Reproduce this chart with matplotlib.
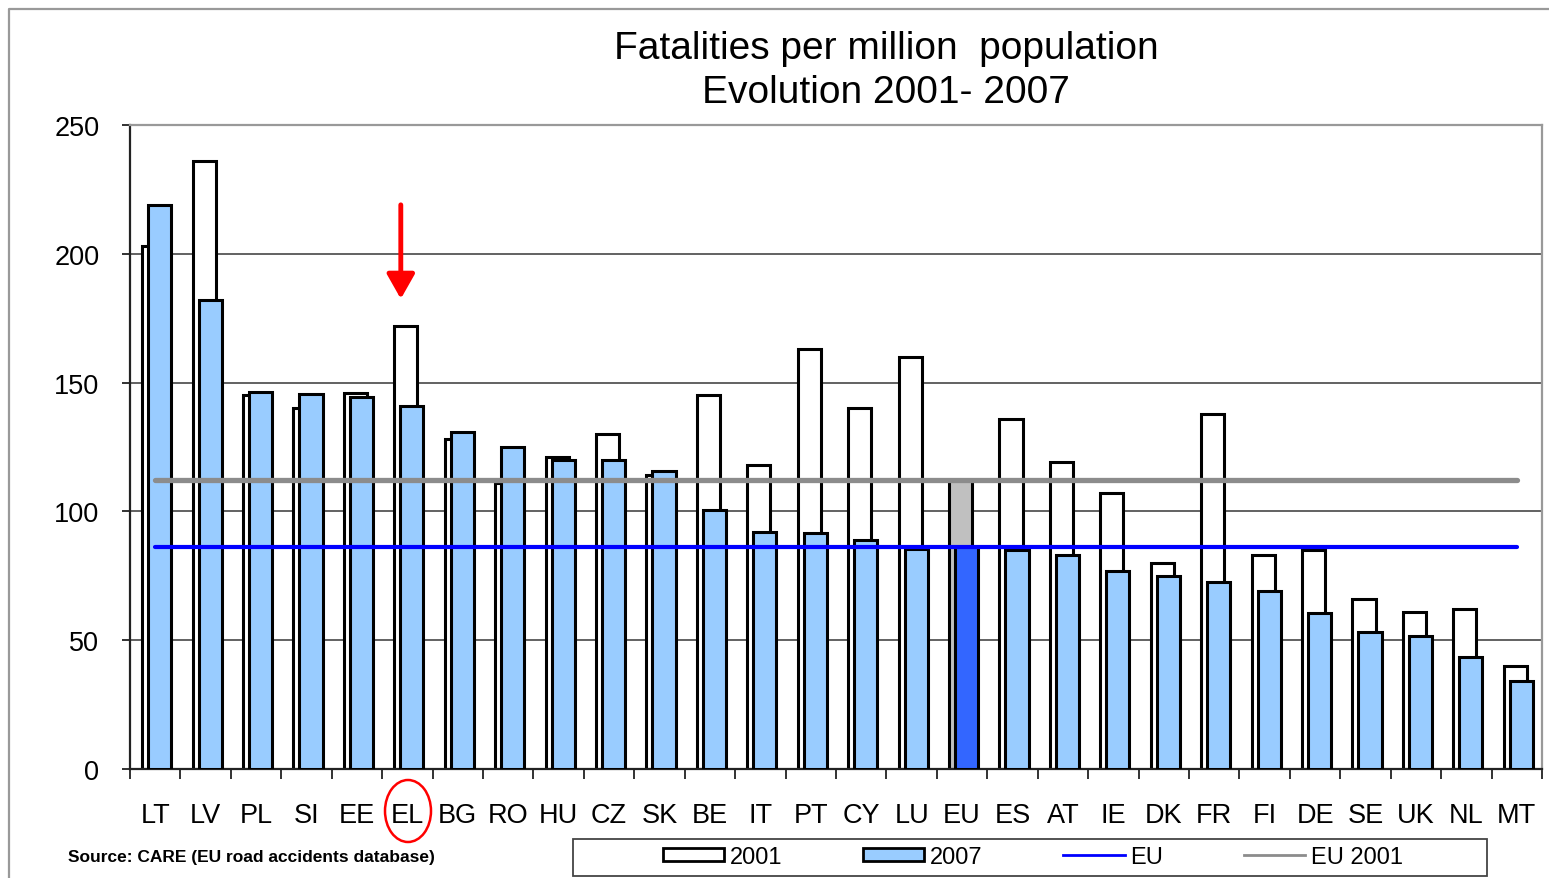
import numpy as np
import matplotlib
matplotlib.use('Agg')
import matplotlib.pyplot as plt
from matplotlib.patches import Patch, Rectangle, Ellipse
from matplotlib.lines import Line2D

## -- Data
countries = ["LT", "LV", "PL", "SI", "EE", "EL", "BG", "RO", "HU", "CZ",
             "SK", "BE", "IT", "PT", "CY", "LU", "EU", "ES", "AT", "IE",
             "DK", "FR", "FI", "DE", "SE", "UK", "NL", "MT"]
rate_2001 = [203, 236, 145, 140, 146, 172, 128, 111, 121, 130,
             114, 145, 118, 163, 140, 160, 112, 136, 119, 107,
             80, 138, 83, 85, 66, 61, 62, 40]
rate_2007 = [219, 182, 146.5, 145.5, 144.5, 141, 131, 125, 120, 120,
             115.5, 100.5, 92, 91.5, 89, 85.5, 86, 85, 83, 77,
             75, 72.5, 69, 60.5, 53, 51.5, 43.5, 34]
eu_avg_2007 = 86
eu_avg_2001 = 112

plt.rcParams['font.family'] = ['Liberation Sans', 'DejaVu Sans']

fig = plt.figure(figsize=(15.49, 8.79), dpi=100)
ax = fig.add_axes([130 / 1549, 1 - 770 / 879, 1412 / 1549, 644 / 879])

x = np.arange(len(countries))
eu_idx = countries.index("EU")

c2001 = ['white'] * len(countries)
c2007 = ['#99ccff'] * len(countries)
c2001[eu_idx] = '#c0c0c0'
c2007[eu_idx] = '#3366ff'

ax.bar(x - 0.03, rate_2001, width=0.46, color=c2001, edgecolor='black', linewidth=2.2, zorder=2)
ax.bar(x + 0.09, rate_2007, width=0.46, color=c2007, edgecolor='black', linewidth=2.2, zorder=3)

# EU averages as horizontal lines across the countries
ax.plot([x[0], x[-1]], [eu_avg_2001, eu_avg_2001], color='#8c8c8c', linewidth=3.8, zorder=4, solid_capstyle='round')
ax.plot([x[0], x[-1]], [eu_avg_2007, eu_avg_2007], color='#0000ff', linewidth=3.0, zorder=5, solid_capstyle='round')

ax.set_xlim(-0.5, len(countries) - 0.5)
ax.set_ylim(0, 250)
ax.set_yticks([0, 50, 100, 150, 200, 250])
ax.yaxis.grid(True, color='#555555', linewidth=1.3, zorder=0)
ax.set_axisbelow(True)

ax.set_xticks(x)
ax.set_xticklabels(countries, fontsize=19.5)
ax.set_xticks(np.arange(len(countries) + 1) - 0.5, minor=True)
ax.tick_params(axis='x', which='major', length=0, pad=24)
ax.tick_params(axis='x', which='minor', length=7, width=1.3, direction='out', color='#222222')
ax.tick_params(axis='y', labelsize=19.5, length=6, width=1.3, pad=16, color='#222222')

for s in ['left', 'bottom']:
    ax.spines[s].set_color('#222222')
    ax.spines[s].set_linewidth(1.6)
for s in ['top', 'right']:
    ax.spines[s].set_color('#999999')
    ax.spines[s].set_linewidth(1.6)

# title
fig.text(886 / 1549, 1 - 71 / 879, "Fatalities per million  population\nEvolution 2001- 2007",
         ha='center', va='center', fontsize=28, linespacing=1.28)

# source note
fig.text(68 / 1549, 1 - 858 / 879, "Source: CARE (EU road accidents database)",
         ha='left', va='center', fontsize=12.5, fontweight='bold')

# red arrow pointing at EL
ax.annotate("", xy=(4.87, 182.5), xytext=(4.87, 219),
            arrowprops=dict(arrowstyle='-|>,head_length=1.5,head_width=0.85', color='red', lw=3.5,
                            shrinkA=0, shrinkB=0), zorder=6)
# red circle round the EL label
fig.patches.append(Ellipse((408 / 1549, 1 - 812 / 879), 46 / 1549, 62 / 879,
                           transform=fig.transFigure, fill=False, edgecolor='red', linewidth=1.8))

# legend with its own frame
handles = [Patch(facecolor='white', edgecolor='black', linewidth=2),
           Patch(facecolor='#99ccff', edgecolor='black', linewidth=2),
           Line2D([], [], color='#0000ff', linewidth=2),
           Line2D([], [], color='#8c8c8c', linewidth=2)]
labels = ["2001", "2007", "EU", "EU 2001"]
fig.legend(handles, labels, loc='center', bbox_to_anchor=(1033 / 1549, 1 - 858 / 879),
           ncol=4, frameon=False, handlelength=2.6, handleheight=0.5,
           handletextpad=0.25, columnspacing=3.4, prop={'size': 17})
fig.patches.append(Rectangle((573 / 1549, 1 - 877 / 879), 914 / 1549, 37 / 879,
                             transform=fig.transFigure, fill=False, edgecolor='#444444', linewidth=1.3))

# outer frame of the picture
fig.lines.append(Line2D([9 / 1549, 9 / 1549, 1.0], [0.0, 1 - 10 / 879, 1 - 10 / 879],
                        transform=fig.transFigure, color='#999999', linewidth=1.6))

plt.savefig("out.png", dpi=100)
